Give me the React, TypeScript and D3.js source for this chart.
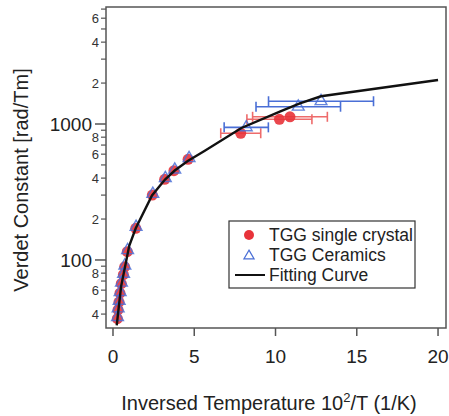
import React from 'react';
import * as d3 from 'd3';

// TGG single crystal (red circles)
const crystalX = [0.27, 0.31, 0.37, 0.43, 0.51, 0.64, 0.72, 0.88, 1.4, 2.42, 3.18, 3.75, 4.62, 7.86, 10.24, 10.89];
const crystalV = [37, 43, 49, 57, 67, 78, 89, 115, 171, 300, 392, 454, 550, 855, 1083, 1130];
const crystalErr = [0, 0, 0, 0, 0, 0, 0, 0, 0, 0, 0, 0, 0, 1.23, 2.0, 2.3];

// TGG ceramics (blue triangles)
const ceramicX = [0.28, 0.32, 0.38, 0.44, 0.52, 0.65, 0.73, 0.9, 1.42, 2.45, 3.22, 3.8, 4.68, 8.2, 11.4, 12.8];
const ceramicV = [38, 44, 50, 58, 68, 79, 91, 118, 175, 306, 400, 462, 560, 945, 1340, 1470];
const ceramicErr = [0, 0, 0, 0, 0, 0, 0, 0, 0, 0, 0, 0, 0, 1.36, 2.6, 3.23];

// fitting curve
const fitX = [0.23, 0.5, 1.0, 1.4, 2.4, 3.2, 3.8, 4.6, 5.6, 7.9, 10.3, 11.5, 12.8, 20];
const fitV = [33, 64, 127, 171, 298, 390, 455, 535, 630, 935, 1240, 1420, 1600, 2105];

const xTicks = [0, 5, 10, 15, 20];
const yMajor = [100, 1000];
const yMinorLabeled = [40, 60, 80, 200, 400, 600, 800, 2000, 4000, 6000];

const legendItems = ['TGG single crystal', 'TGG Ceramics', 'Fitting Curve'];

const RED = '#e8333a';
const RED_BAR = '#ee6b6b';
const BLUE = '#4a6fd6';

const W = 449;
const H = 416;
const left = 106, right = 446, top = 7, bottom = 328;

export default function App() {
  const x = d3.scaleLinear().domain([-0.43, 20.49]).range([left, right]);
  const y = d3.scaleLog().domain([31.6, 7253]).range([bottom, top]);

  // minor ticks at 2..9 of each decade
  const minorTicks: number[] = [];
  [10, 100, 1000].forEach(dec => {
    for (let k = 2; k <= 9; k++) {
      const v = k * dec;
      if (v >= 31.6 && v <= 7253 && !yMajor.includes(v)) minorTicks.push(v);
    }
  });

  const line = d3
    .line<number>()
    .x((_, i) => x(fitX[i]))
    .y(d => y(d));

  const tri = d3.symbol().type(d3.symbolTriangle).size(60)();
  const triSmall = d3.symbol().type(d3.symbolTriangle).size(45)();

  const font = 'Liberation Sans, Arial, sans-serif';

  return (
    <svg width={W} height={H} style={{ position: 'absolute', left: 0, top: 0, background: '#fff' }} fontFamily={font}>
      {/* error bars */}
      {crystalX.map((cx, i) =>
        crystalErr[i] > 0 ? (
          <g key={'ce' + i} stroke={RED_BAR} strokeWidth={1.6}>
            <line x1={x(cx - crystalErr[i])} x2={x(cx + crystalErr[i])} y1={y(crystalV[i])} y2={y(crystalV[i])} />
            <line x1={x(cx - crystalErr[i])} x2={x(cx - crystalErr[i])} y1={y(crystalV[i]) - 5} y2={y(crystalV[i]) + 5} />
            <line x1={x(cx + crystalErr[i])} x2={x(cx + crystalErr[i])} y1={y(crystalV[i]) - 5} y2={y(crystalV[i]) + 5} />
          </g>
        ) : null
      )}
      {ceramicX.map((cx, i) =>
        ceramicErr[i] > 0 ? (
          <g key={'ke' + i} stroke={BLUE} strokeWidth={1.6}>
            <line x1={x(cx - ceramicErr[i])} x2={x(cx + ceramicErr[i])} y1={y(ceramicV[i])} y2={y(ceramicV[i])} />
            <line x1={x(cx - ceramicErr[i])} x2={x(cx - ceramicErr[i])} y1={y(ceramicV[i]) - 5} y2={y(ceramicV[i]) + 5} />
            <line x1={x(cx + ceramicErr[i])} x2={x(cx + ceramicErr[i])} y1={y(ceramicV[i]) - 5} y2={y(ceramicV[i]) + 5} />
          </g>
        ) : null
      )}

      {/* markers */}
      {crystalX.map((cx, i) => (
        <circle key={'c' + i} cx={x(cx)} cy={y(crystalV[i])} r={5.5} fill={RED} opacity={0.9} />
      ))}
      {ceramicX.map((cx, i) => (
        <path
          key={'t' + i}
          d={tri}
          transform={`translate(${x(cx)},${y(ceramicV[i])})`}
          fill="none"
          stroke={BLUE}
          strokeWidth={1.4}
          opacity={0.85}
        />
      ))}

      {/* fit */}
      <path d={line(fitV) || ''} fill="none" stroke="#111" strokeWidth={2.4} />

      {/* frame */}
      <rect x={left} y={top} width={right - left} height={bottom - top} fill="none" stroke="#555" strokeWidth={1.5} />

      {/* x axis */}
      {xTicks.map(t => (
        <g key={'xt' + t}>
          <line x1={x(t)} x2={x(t)} y1={bottom} y2={bottom + 8} stroke="#555" strokeWidth={1.5} />
          <text x={x(t)} y={363} textAnchor="middle" fontSize={19} fill="#222">
            {t}
          </text>
        </g>
      ))}
      <text x={269} y={410} textAnchor="middle" fontSize={20} fill="#222">
        Inversed Temperature 10<tspan dy={-8} fontSize={13}>2</tspan>
        <tspan dy={8}>/T (1/K)</tspan>
      </text>

      {/* y axis */}
      {yMajor.map(t => (
        <g key={'ym' + t}>
          <line x1={left - 11} x2={left} y1={y(t)} y2={y(t)} stroke="#555" strokeWidth={1.5} />
          <text x={left - 14} y={y(t)} dy="0.35em" textAnchor="end" fontSize={19} fill="#222">
            {t}
          </text>
        </g>
      ))}
      {minorTicks.map(t => (
        <line key={'yn' + t} x1={left - 5} x2={left} y1={y(t)} y2={y(t)} stroke="#555" strokeWidth={1.2} />
      ))}
      {yMinorLabeled.map(t => (
        <text key={'yl' + t} x={left - 7} y={y(t)} dy="0.35em" textAnchor="end" fontSize={13} fill="#333">
          {String(t)[0]}
        </text>
      ))}
      <text transform={`translate(28,180) rotate(-90)`} textAnchor="middle" fontSize={20} fill="#222">
        Verdet Constant [rad/Tm]
      </text>

      {/* legend */}
      <rect x={229} y={221} width={186} height={67} fill="#fff" stroke="#333" strokeWidth={1.2} />
      {legendItems.map((label, i) => {
        const ly = 235 + i * 20;
        return (
          <g key={label}>
            {i === 0 && <circle cx={249} cy={ly} r={5} fill={RED} />}
            {i === 1 && (
              <path d={triSmall} transform={`translate(249,${ly + 1})`} fill="none" stroke={BLUE} strokeWidth={1.2} />
            )}
            {i === 2 && <line x1={235} x2={265} y1={ly} y2={ly} stroke="#111" strokeWidth={2} />}
            <text x={269} y={ly} dy="0.35em" fontSize={17.5} fill="#222">
              {label}
            </text>
          </g>
        );
      })}
    </svg>
  );
}
